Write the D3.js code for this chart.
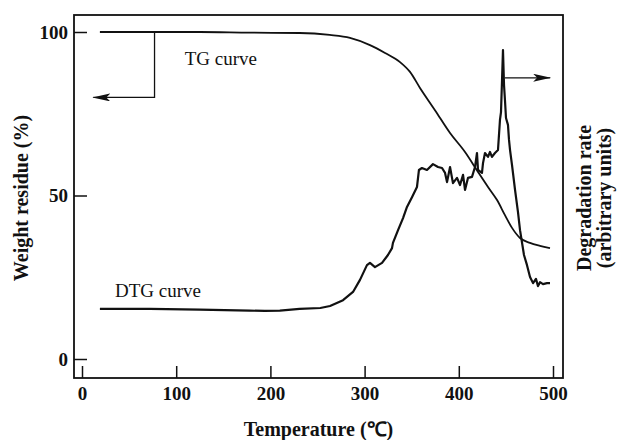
<!DOCTYPE html>
<html>
<head>
<meta charset="utf-8">
<script src="https://cdn.jsdelivr.net/npm/d3@7"></script>
<style>
  body { margin: 0; background: #fff; }
  svg { display: block; }
</style>
</head>
<body>
<svg id="tga"></svg>
<script>
(function () {
var width = 617, height = 440
var svg = d3.select('#tga')
            .attr('width', width)
            .attr('height', height)

var serif = '"Liberation Serif", "Times New Roman", serif'

// temperature (C), weight residue (%)
var tgTemp = [19, 125, 178, 231, 263, 284.5, 305.7, 321.7, 337.6, 348.2, 358.8, 374.7, 390.7,
              406.6, 420.4, 431, 440.6, 449, 456.5, 465, 475.6, 486.2, 496.8]
var tgWeight = [100, 100, 99.8, 99.7, 99.1, 98.2, 96, 93.6, 90.8, 87.8, 82.9, 76.1, 69.1,
                63.3, 57.2, 52.6, 48.6, 44, 40.1, 37, 35.5, 34.6, 33.9]

// temperature (C), degradation rate (arbitrary units, drawn on the same 0-100 frame)
var dtgTemp = [19, 72, 125, 178, 194, 210, 231, 253, 263.3, 277.1, 287.7, 295.1, 302.5, 305.7,
               311, 318.5, 324.8, 329.1, 330.1, 335.5, 340.8, 345, 350.3, 355.6, 357.7,
               360.9, 366.2, 372.6, 377.9, 382.2, 385.4, 387.5, 390.7, 392.8, 393.8, 398.1,
               401.3, 404.5, 406.6, 409.8, 414, 417.2, 419.3, 420.4, 424.6, 425.7, 427.8,
               431, 433.1, 435.2, 438.4, 441.6, 443.7, 444.8, 445.9,
               446.9, 448, 449, 450.1, 452.2, 453.3, 454.4, 456.5, 459.7, 462.8, 465, 469.2,
               472.4, 475.6, 478.8, 481.9, 484.1, 486.2, 489.4, 493.6, 496.8]
var dtgRate = [15.3, 15.3, 15.1, 14.8, 14.7, 14.8, 15.3, 15.6, 16.2, 18, 20.5, 24.2, 28.7, 29.4,
               28.1, 29.4, 31.8, 33.9, 35.5, 39.4, 43.1, 46.5, 49.5, 52.6, 57.8,
               58.4, 57.8, 59.6, 58.7, 58.4, 56.9, 54.1, 58.7, 55.4, 53.8, 55.4,
               53.2, 56.3, 51.7, 55.4, 55.7, 58.7, 63, 57.8, 56.9, 59.9, 63,
               61.8, 63.3, 61.8, 63, 63.9, 73.1, 75.5, 85.3,
               94.5, 83.8, 79.2, 73.7, 71.6, 67, 63.9, 59.3, 51.7, 45, 39.4, 31.8,
               28.7, 25.1, 23.2, 24.5, 22.3, 23.5, 22.9, 23.2, 23.2]

var xTicks = [0, 100, 200, 300, 400, 500]
var yTicks = [0, 50, 100]

var frame = {left: 74, top: 15, right: 563, bottom: 378}

var x = d3.scaleLinear().domain([0, 500]).range([82, 553])
var y = d3.scaleLinear().domain([0, 100]).range([359, 32])
var y2 = d3.scaleLinear().domain([0, 100]).range([359, 32]) // right axis, no labels

var tg = tgTemp.map((t, i) => [t, tgWeight[i]])
var dtg = dtgTemp.map((t, i) => [t, dtgRate[i]])

// arrow head
svg.append('defs').append('marker')
    .attr('id', 'head')
    .attr('markerUnits', 'userSpaceOnUse')
    .attr('viewBox', '0 0 18 8')
    .attr('markerWidth', 18).attr('markerHeight', 8)
    .attr('refX', 17).attr('refY', 4)
    .attr('orient', 'auto')
  .append('path')
    .attr('d', 'M0,0 L18,4 L0,8 L4,4 Z')
    .attr('fill', '#111')

// frame
svg.append('rect')
    .attr('x', frame.left).attr('y', frame.top)
    .attr('width', frame.right - frame.left)
    .attr('height', frame.bottom - frame.top)
    .attr('fill', 'none')
    .attr('stroke', '#111')
    .attr('stroke-width', 1.8)

var xAxis = svg.append('g')
    .attr('transform', 'translate(0,' + frame.bottom + ')')
    .call(d3.axisBottom(x).tickValues(xTicks).tickSize(-12).tickPadding(9))
var yAxis = svg.append('g')
    .attr('transform', 'translate(' + frame.left + ',0)')
    .call(d3.axisLeft(y).tickValues(yTicks).tickSize(-13).tickPadding(6))

;[xAxis, yAxis].forEach(function (a) {
    a.select('.domain').remove()
    a.selectAll('line').attr('stroke', '#111').attr('stroke-width', 1.5)
    a.selectAll('text')
        .attr('fill', '#111')
        .style('font', 'bold 19px ' + serif)
})

var line = d3.line().x(d => x(d[0])).y(d => y(d[1]))
var line2 = d3.line().x(d => x(d[0])).y(d => y2(d[1]))

svg.append('path')
    .datum(tg)
    .attr('d', line.curve(d3.curveMonotoneX))
    .attr('fill', 'none')
    .attr('stroke', '#111')
    .attr('stroke-width', 1.8)

svg.append('path')
    .datum(dtg)
    .attr('d', line2)
    .attr('fill', 'none')
    .attr('stroke', '#111')
    .attr('stroke-width', 2.2)
    .attr('stroke-linejoin', 'round')

// left arrow: TG belongs to the left axis
svg.append('path')
    .attr('d', 'M' + x(77) + ',' + y(100) + 'V' + y(80) + 'H' + x(12))
    .attr('fill', 'none')
    .attr('stroke', '#111')
    .attr('stroke-width', 1.3)
    .attr('marker-end', 'url(#head)')

// right arrow: DTG belongs to the right axis
svg.append('path')
    .attr('d', 'M' + x(449) + ',' + y2(86) + 'H' + x(497))
    .attr('fill', 'none')
    .attr('stroke', '#111')
    .attr('stroke-width', 1.3)
    .attr('marker-end', 'url(#head)')

svg.append('text')
    .attr('x', x(109)).attr('y', y(90))
    .style('font', '19px ' + serif)
    .attr('fill', '#111')
    .text('TG curve')

svg.append('text')
    .attr('x', x(35)).attr('y', y(19))
    .style('font', '19px ' + serif)
    .attr('fill', '#111')
    .text('DTG curve')

// axis titles
svg.append('text')
    .attr('x', (frame.left + frame.right) / 2).attr('y', 436)
    .attr('text-anchor', 'middle')
    .style('font', 'bold 20px ' + serif)
    .attr('fill', '#111')
    .text('Temperature (\u2103)')

svg.append('text')
    .attr('transform', 'translate(28,198) rotate(-90)')
    .attr('text-anchor', 'middle')
    .style('font', 'bold 20px ' + serif)
    .attr('fill', '#111')
    .text('Weight residue (%)')

var rt = svg.append('text')
    .attr('transform', 'translate(591,198) rotate(-90)')
    .attr('text-anchor', 'middle')
    .style('font', 'bold 20px ' + serif)
    .attr('fill', '#111')
rt.append('tspan').attr('x', 0).attr('dy', 0).text('Degradation rate')
rt.append('tspan').attr('x', 0).attr('dy', '1.0em').text('(arbitrary units)')
})();
</script>
</body>
</html>
